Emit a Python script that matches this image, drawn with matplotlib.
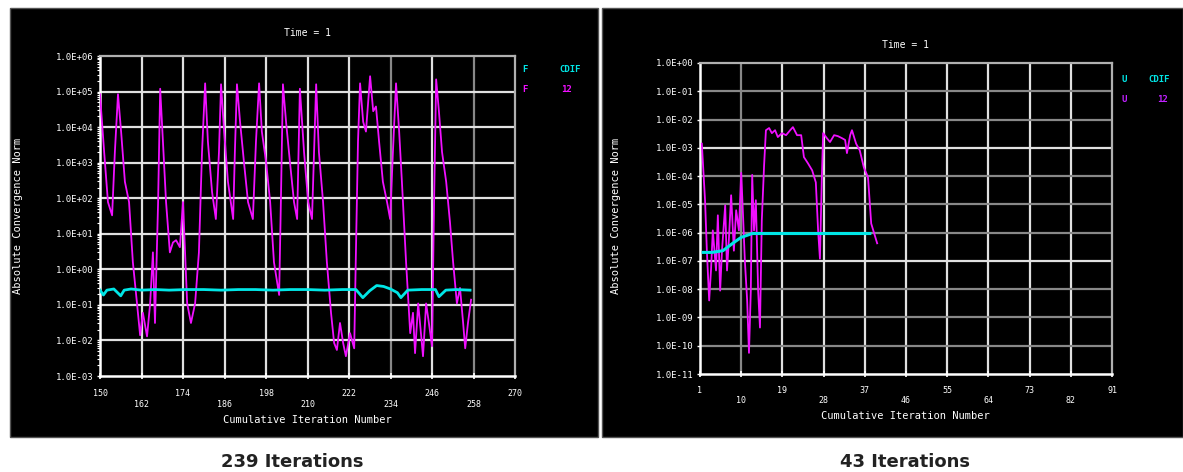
import matplotlib
matplotlib.use("Agg")
import matplotlib.pyplot as plt
import matplotlib.patches as mpatches
from matplotlib.ticker import FixedLocator, NullFormatter

# ---- left run: 239 iterations ----
left_f12_iter = [150.0, 151.2, 152.3, 153.5, 154.3, 155.2, 156.1, 157.2, 158.4, 159.5,
                 160.7, 161.6, 162.4, 163.6, 164.5, 165.3, 165.9, 166.8, 167.4, 168.2,
                 169.1, 170.2, 171.1, 172.0, 173.1, 174.0, 175.2, 176.3, 177.5, 178.6,
                 179.5, 180.4, 181.2, 182.4, 183.5, 184.4, 185.0, 185.9, 187.0, 188.5,
                 189.0, 189.6, 190.5, 191.6, 192.8, 194.2, 195.1, 196.0, 196.8, 198.0,
                 199.2, 200.3, 201.8, 202.3, 202.9, 203.8, 204.9, 206.1, 207.0, 207.8,
                 209.0, 210.2, 211.3, 212.5, 213.3, 214.5, 215.6, 216.8, 217.7, 218.5,
                 219.4, 220.3, 221.1, 222.3, 223.5, 224.0, 224.6, 225.2, 226.1, 226.9,
                 228.1, 229.0, 229.8, 230.7, 231.8, 233.0, 233.9, 234.7, 235.6, 236.5,
                 237.3, 238.5, 239.7, 240.5, 241.1, 242.0, 242.8, 243.4, 244.3, 245.1,
                 246.0, 246.6, 247.2, 248.0, 248.9, 250.1, 251.2, 252.1, 253.2, 254.1,
                 255.0, 255.6, 256.4, 257.3]
left_f12 = [8.4e4, 2.0e3, 7.8e1, 3.3e1, 2.0e3, 8.4e4, 7.5e3, 2.9e2, 7.8e1, 1.6e0,
            1.1e-1, 1.4e-2, 6.0e-2, 1.3e-2, 1.1e-1, 3.0e0, 3.1e-2, 7.8e1, 1.2e5, 3.9e3,
            7.8e1, 3.0e0, 5.7e0, 6.6e0, 4.2e0, 7.8e1, 1.1e-1, 3.1e-2, 1.1e-1, 3.0e0,
            2.0e3, 1.7e5, 3.9e3, 1.5e2, 2.6e1, 2.0e3, 1.6e5, 7.5e3, 2.9e2, 2.6e1,
            2.0e3, 1.6e5, 1.4e4, 1.1e3, 7.8e1, 2.6e1, 3.9e3, 1.7e5, 7.5e3, 1.1e3,
            7.8e1, 1.6e0, 1.9e-1, 7.8e1, 1.6e5, 1.4e4, 1.1e3, 7.8e1, 2.6e1, 1.2e5,
            2.0e3, 7.8e1, 2.6e1, 1.6e5, 2.0e3, 7.8e1, 1.6e0, 6.0e-2, 8.5e-3, 5.4e-3,
            3.1e-2, 8.5e-3, 3.6e-3, 1.6e-2, 6.0e-3, 3.0e0, 3.9e3, 1.7e5, 1.4e4, 7.5e3,
            2.7e5, 2.8e4, 3.8e4, 3.9e3, 2.9e2, 7.8e1, 2.6e1, 2.0e3, 1.7e5, 7.5e3,
            2.9e2, 1.6e0, 1.6e-2, 6.0e-2, 4.4e-3, 1.1e-1, 1.6e-2, 3.6e-3, 1.1e-1, 3.1e-2,
            6.9e-3, 7.8e1, 2.2e5, 2.8e4, 2.0e3, 2.9e2, 2.1e1, 1.6e0, 1.1e-1, 3.0e-1,
            3.1e-2, 6.0e-3, 3.1e-2, 1.4e-1]
left_cdif_iter = [150, 151, 152, 154, 156, 157, 159, 162, 166, 170, 175, 180, 185, 190,
                  195, 200, 205, 210, 215, 220, 224, 226, 228, 230, 232, 234, 236, 237,
                  239, 243, 247, 248, 250, 253, 257]
left_cdif = [2.6e-1, 1.9e-1, 2.6e-1, 2.8e-1, 1.8e-1, 2.6e-1, 2.8e-1, 2.6e-1, 2.7e-1, 2.6e-1,
             2.7e-1, 2.7e-1, 2.6e-1, 2.7e-1, 2.7e-1, 2.6e-1, 2.7e-1, 2.7e-1, 2.6e-1, 2.7e-1,
             2.7e-1, 1.6e-1, 2.5e-1, 3.5e-1, 3.3e-1, 2.8e-1, 2.2e-1, 1.6e-1, 2.6e-1, 2.7e-1,
             2.7e-1, 1.7e-1, 2.6e-1, 2.7e-1, 2.6e-1]
left_xticks = [150, 162, 174, 186, 198, 210, 222, 234, 246, 258, 270]
left_yticks = [1e-3, 1e-2, 1e-1, 1e0, 1e1, 1e2, 1e3, 1e4, 1e5, 1e6]

# ---- right run: 43 iterations ----
right_u12_iter = [1.4, 2.1, 2.5, 3.0, 3.4, 3.8, 4.5, 4.9, 5.4, 5.8,
                  6.5, 6.9, 7.3, 7.8, 8.4, 8.9, 9.5, 10.0, 10.4, 10.8,
                  11.3, 11.7, 12.1, 12.4, 12.8, 13.2, 13.7, 14.1, 14.5, 15.0,
                  15.4, 16.1, 16.7, 17.4, 18.0, 18.9, 19.8, 20.7, 21.3, 22.2,
                  23.1, 23.7, 24.6, 25.5, 26.3, 26.8, 27.2, 27.6, 27.9, 28.7,
                  29.4, 30.3, 31.1, 32.0, 32.7, 33.1, 33.8, 34.2, 35.1, 35.9,
                  36.8, 37.7, 38.4, 39.0, 39.7]
right_u12 = [1.4e-3, 1.4e-5, 2.3e-7, 4.0e-9, 4.6e-8, 1.2e-6, 4.6e-8, 4.1e-6, 8.9e-9, 2.3e-7,
             9.2e-6, 4.6e-8, 5.3e-7, 2.1e-5, 2.3e-7, 6.2e-6, 1.2e-6, 1.3e-4, 4.1e-6, 1.0e-7,
             4.0e-9, 5.6e-11, 8.9e-9, 1.1e-4, 1.2e-6, 1.4e-5, 8.9e-9, 4.4e-10, 2.7e-6, 2.4e-4,
             4.2e-3, 5.0e-3, 3.3e-3, 4.2e-3, 2.4e-3, 3.3e-3, 2.8e-3, 4.2e-3, 5.4e-3, 2.8e-3,
             2.8e-3, 4.7e-4, 2.8e-4, 1.6e-4, 6.0e-5, 1.2e-6, 1.2e-7, 7.1e-5, 3.3e-3, 2.2e-3,
             1.6e-3, 2.8e-3, 2.6e-3, 2.2e-3, 1.9e-3, 6.5e-4, 2.8e-3, 4.2e-3, 1.4e-3, 8.1e-4,
             2.0e-4, 9.1e-5, 2.1e-6, 1.0e-6, 4.2e-7]
right_cdif_iter = [1.7, 3.6, 6.0, 8.4, 10.0, 12.4, 38.1]
right_cdif = [2.0e-7, 2.0e-7, 2.3e-7, 4.5e-7, 6.8e-7, 9.3e-7, 9.3e-7]
right_xticks = [1, 10, 19, 28, 37, 46, 55, 64, 73, 82, 91]
right_yticks = [1e-11, 1e-10, 1e-9, 1e-8, 1e-7, 1e-6, 1e-5, 1e-4, 1e-3, 1e-2, 1e-1, 1e0]

MONO = "DejaVu Sans Mono"
MAG = "#f010ff"
CYAN = "#00e6e6"

fig = plt.figure(figsize=(11.83, 4.72), dpi=100)
fig.patch.set_facecolor("white")

# black panels behind each chart
for x0, w in [(10, 588), (602, 581)]:
    fig.patches.append(mpatches.Rectangle((x0 / 1183, 1 - 437 / 472), w / 1183, 429 / 472,
                                          transform=fig.transFigure, facecolor="black",
                                          edgecolor="#555555", linewidth=1, zorder=-10))


def style_axes(ax, xticks, yticks, gray_x, gray_y, pad_x):
    ax.set_facecolor("black")
    ax.set_yscale("log")
    ax.set_xlim(xticks[0], xticks[-1])
    ax.set_ylim(yticks[0], yticks[-1])
    ax.xaxis.set_major_locator(FixedLocator(xticks))
    ax.set_xticklabels([str(t) if i % 2 == 0 else "\n" + str(t) for i, t in enumerate(xticks)],
                       family=MONO, fontsize=6, color="white")
    ax.yaxis.set_major_locator(FixedLocator(yticks))
    ax.set_yticklabels(["%.1E" % v for v in yticks], family=MONO, fontsize=6.5, color="white")
    ax.yaxis.set_minor_formatter(NullFormatter())
    ax.tick_params(axis="x", colors="white", direction="inout", length=5, width=1.2, pad=pad_x)
    ax.tick_params(axis="y", which="major", colors="white", length=2, width=1, pad=3)
    ax.tick_params(axis="y", which="minor", colors="white", length=2, width=0.8)
    for i, t in enumerate(xticks[1:-1], start=1):
        ax.axvline(t, color="#888888" if i in gray_x else "#e0e0e0", lw=1.6, zorder=1)
    for i, v in enumerate(yticks[1:-1], start=1):
        ax.axhline(v, color="#888888" if i in gray_y else "#e0e0e0", lw=1.6, zorder=1)
    for side in ["top", "right"]:
        ax.spines[side].set_color("#b0b0b0")
        ax.spines[side].set_linewidth(1.6)
    for side in ["left", "bottom"]:
        ax.spines[side].set_color("white")
        ax.spines[side].set_linewidth(1.8)


axL = fig.add_axes([100 / 1183, 1 - 376 / 472, 415 / 1183, 320 / 472])
style_axes(axL, left_xticks, left_yticks, gray_x=[7, 9], gray_y=[], pad_x=7)
axL.plot(left_f12_iter, left_f12, color=MAG, lw=1.3, zorder=3)
axL.plot(left_cdif_iter, left_cdif, color=CYAN, lw=2, zorder=4)

axR = fig.add_axes([700 / 1183, 1 - 374 / 472, 412 / 1183, 311 / 472])
style_axes(axR, right_xticks, right_yticks, gray_x=[1], gray_y=[1, 2, 3, 5, 6, 7, 9, 10], pad_x=6)
axR.plot(right_u12_iter, right_u12, color=MAG, lw=1.3, zorder=3)
axR.plot(right_cdif_iter, right_cdif, color=CYAN, lw=2.2, zorder=4)

txt = dict(family=MONO, color="white", ha="center", va="center")
# titles
fig.text(307 / 1183, 1 - 33 / 472, "Time = 1", fontsize=7, **txt)
fig.text(905 / 1183, 1 - 45 / 472, "Time = 1", fontsize=7, **txt)
# axis labels
fig.text(18 / 1183, 1 - 216 / 472, "Absolute Convergence Norm", fontsize=7.5, rotation=90, **txt)
fig.text(616 / 1183, 1 - 216 / 472, "Absolute Convergence Norm", fontsize=7.5, rotation=90, **txt)
fig.text(307 / 1183, 1 - 420 / 472, "Cumulative Iteration Number", fontsize=7.5, **txt)
fig.text(905 / 1183, 1 - 416 / 472, "Cumulative Iteration Number", fontsize=7.5, **txt)

# legend-like labels at the right of each chart
leg = dict(family=MONO, fontsize=6.5, fontweight="bold", ha="center", va="center")
fig.text(525 / 1183, 1 - 70 / 472, "F", color=CYAN, **leg)
fig.text(570 / 1183, 1 - 70 / 472, "CDIF", color=CYAN, **leg)
fig.text(525 / 1183, 1 - 89 / 472, "F", color=MAG, **leg)
fig.text(567 / 1183, 1 - 89 / 472, "12", color=MAG, **leg)
fig.text(1124 / 1183, 1 - 79 / 472, "U", color=CYAN, **leg)
fig.text(1159 / 1183, 1 - 79 / 472, "CDIF", color=CYAN, **leg)
fig.text(1124 / 1183, 1 - 99 / 472, "U", color="#c020ff", **leg)
fig.text(1162 / 1183, 1 - 99 / 472, "12", color="#c020ff", **leg)

# captions under the panels
fig.text(292 / 1183, 1 - 462 / 472, "239 Iterations", fontsize=13, fontweight="bold",
         color="#222222", ha="center", va="center")
fig.text(905 / 1183, 1 - 462 / 472, "43 Iterations", fontsize=13, fontweight="bold",
         color="#222222", ha="center", va="center")

fig.savefig("out.png", dpi=100, facecolor="white")
